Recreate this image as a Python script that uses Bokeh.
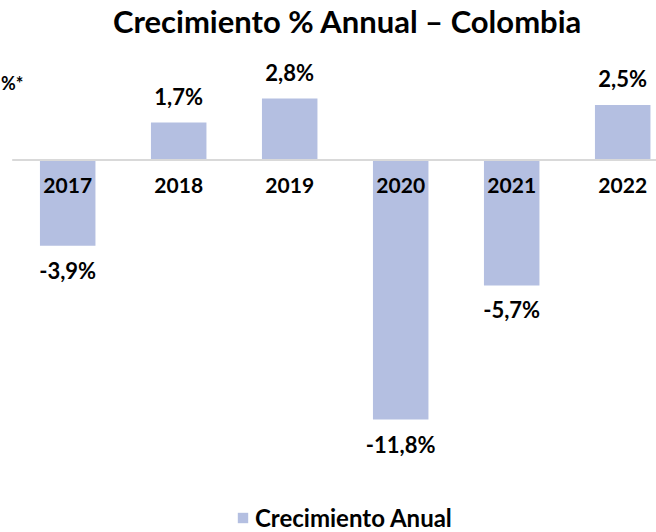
from bokeh.plotting import figure
from bokeh.models import ColumnDataSource, Range1d, Legend, LegendItem
from bokeh.core.properties import value
from bokeh.embed import file_html
from bokeh.resources import INLINE

years = ["2017", "2018", "2019", "2020", "2021", "2022"]
growth = [-3.9, 1.7, 2.8, -11.8, -5.7, 2.5]
labels = ["-3,9%", "1,7%", "2,8%", "-11,8%", "-5,7%", "2,5%"]
title_text = "Crecimiento % Annual – Colombia"
series_name = "Crecimiento Anual"

BAR = "#B4BFE1"
FONT = value("Lato")

xs = list(range(len(years)))
src = ColumnDataSource(dict(
    x=xs, top=growth, year=years, label=labels,
    zero=[0] * len(years),
    lab_off=[-26 if v > 0 else 24.5 for v in growth],
    lab_y=growth,
))

p = figure(width=656, height=532, output_backend="svg", toolbar_location=None,
           x_range=Range1d(-0.6054, 5.3045), y_range=Range1d(-16.932, 7.25),
           min_border=0, outline_line_color=None)
p.xaxis.visible = False
p.yaxis.visible = False
p.grid.visible = False
p.background_fill_color = "white"
p.border_fill_color = "white"

bars = p.vbar(x="x", top="top", bottom=0, width=0.5, source=src,
              fill_color=BAR, line_color=None)

# zero line
p.segment(x0=[-0.5], y0=[0], x1=[6], y1=[0], line_color="#D9D9D9", line_width=2)

# year labels on the zero line
p.text(x="x", y="zero", text="year", source=src, y_offset=25.5,
       text_align="center", text_baseline="middle", text_font=FONT,
       text_font_style="bold", text_font_size="21px", text_color="#000000")

# value labels
p.text(x="x", y="lab_y", text="label", source=src, y_offset="lab_off",
       text_align="center", text_baseline="middle", text_font=FONT,
       text_font_style="bold", text_font_size="22px", text_color="#000000")

# title
p.text(x=[2.522], y=[(159.5 - 21) / 22.0], text=[title_text], text_align="center",
       text_baseline="middle", text_font=FONT, text_font_style="bold",
       text_font_size="31px", text_color="#000000")

# annotation at the left edge
p.text(x=[-0.6], y=[(159.5 - 83) / 22.0], text=["%*"], text_align="left",
       text_baseline="middle", text_font=FONT, text_font_style="bold",
       text_font_size="18px", text_color="#000000")

legend = Legend(items=[LegendItem(label=series_name, renderers=[bars])],
                location=(236, 0), orientation="horizontal",
                padding=0, margin=0, spacing=0,
                glyph_width=13, glyph_height=13, label_height=13,
                label_standoff=6, border_line_color=None,
                background_fill_alpha=0,
                label_text_font="Lato", label_text_font_style="bold",
                label_text_font_size="24px", label_text_color="#000000")
p.add_layout(legend, "center")

open("out.html", "w").write(file_html(p, INLINE))
